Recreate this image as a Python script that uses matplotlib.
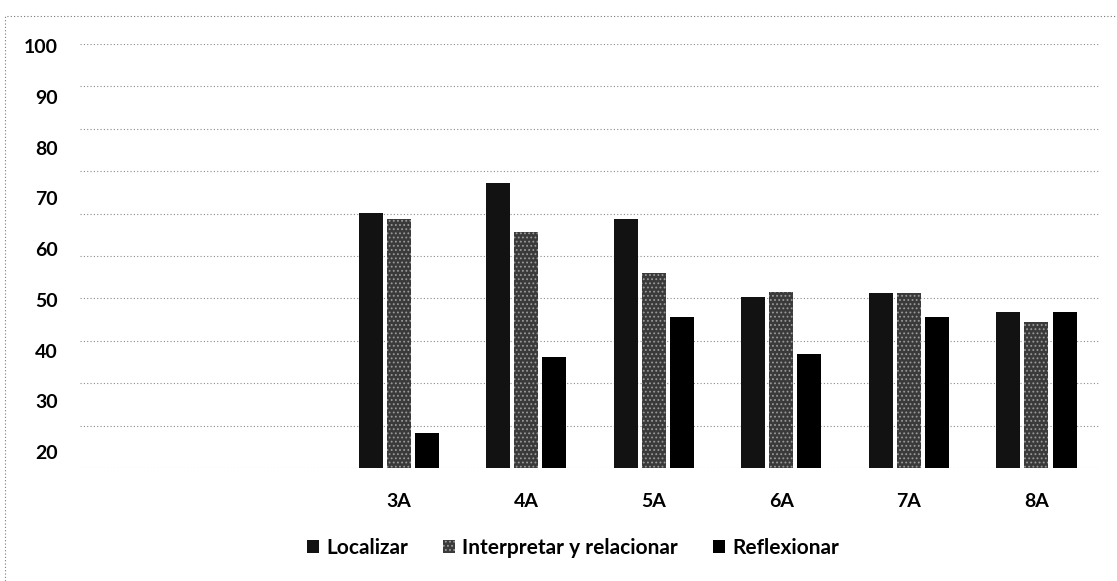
import matplotlib.pyplot as plt
import matplotlib.patches as mpatches
import numpy as np

# categories (first two slots are empty in the original)
grades = ["", "", "3A", "4A", "5A", "6A", "7A", "8A"]
localizar = [np.nan, np.nan, 67, 73, 66, 50.6, 51.3, 47.6]
interpretar = [np.nan, np.nan, 66, 63.4, 55.3, 51.6, 51.3, 45.6]
reflexionar = [np.nan, np.nan, 23.7, 38.7, 46.6, 39.3, 46.6, 47.6]
series_names = ["Localizar", "Interpretar y relacionar", "Reflexionar"]
yticks = [20, 30, 40, 50, 60, 70, 80, 90, 100]

plt.rcParams['font.family'] = ['Lato', 'DejaVu Sans']
plt.rcParams['hatch.linewidth'] = 0.8

fig = plt.figure(figsize=(11.17, 5.81), dpi=100)
ax = fig.add_axes([0.0716, 0.1945, 0.9134, 0.7298])

x = np.arange(len(grades))
w = 0.188
step = 0.22
ax.bar(x - step, localizar, w, color="#121212", label=series_names[0])
ax.bar(x, interpretar, w, color="#3a3a3a", hatch="....", edgecolor="#9a9a9a",
       linewidth=0, label=series_names[1])
ax.bar(x + step, reflexionar, w, color="#000000", label=series_names[2])

ymin, ymax = 16.85, 100.4
ax.set_ylim(ymin, ymax)
ax.set_xlim(-0.5, len(grades) - 0.5)

ax.set_yticks(yticks)
ax.set_yticklabels([str(t) for t in yticks], fontsize=14, fontweight="bold")
ax.set_yticks(np.linspace(ymin, ymax, 11), minor=True)
ax.grid(which="minor", axis="y", color="#8a8a8a", linestyle=(0, (1, 2)), linewidth=0.8)
ax.set_axisbelow(True)

ax.set_xticks(x)
ax.set_xticklabels(grades, fontsize=14, fontweight="bold")
ax.tick_params(axis="x", length=0, pad=18)
ax.tick_params(axis="y", which="both", length=0, pad=16)
for s in ax.spines.values():
    s.set_visible(False)

fig.legend(loc="center", bbox_to_anchor=(573 / 1117, 1 - 548 / 581), ncol=3,
           frameon=False, prop={"size": 15, "weight": "bold"},
           handlelength=0.55, handleheight=0.55, handletextpad=0.35, columnspacing=1.7)

# dotted outer frame of the chart
fig.patches.append(mpatches.Rectangle((5 / 1117, -0.1), 1.2, 1 - 16 / 581 + 0.1,
                                      transform=fig.transFigure, fill=False,
                                      edgecolor="#777777", linestyle=(0, (1, 2)),
                                      linewidth=0.8))

fig.savefig("out.png", dpi=100)
